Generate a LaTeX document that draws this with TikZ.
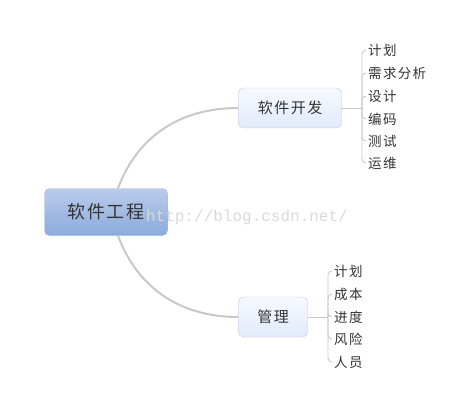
\documentclass[tikz,border=0pt]{standalone}
\usepackage{fontspec}
\setmainfont{Noto Sans CJK SC}[LetterSpace=10]
\newfontfamily\wmfont{Liberation Mono}
\definecolor{linegray}{HTML}{C8C8C8}
\definecolor{txtgray}{HTML}{333333}
\definecolor{rootborder}{HTML}{A4B8DC}
\definecolor{subborder}{HTML}{BAC6DC}
\tikzset{
	rootnode/.style={draw=rootborder, rounded corners=5pt, top color={rgb,255:red,186;green,204;blue,234}, bottom color={rgb,255:red,140;green,170;blue,220}, minimum width=123pt, minimum height=47pt, font=\fontsize{18}{18}\selectfont, text=txtgray},
	subnode/.style={draw=subborder, rounded corners=5pt, top color={rgb,255:red,246;green,249;blue,255}, bottom color={rgb,255:red,226;green,234;blue,250}, minimum height=40pt, inner xsep=12pt, font=\fontsize{15}{15}\selectfont, text=txtgray},
	leaf/.style={anchor=west, inner xsep=2pt, inner ysep=1pt, font=\fontsize{13.5}{13.5}\selectfont, text=txtgray},
	mainlink/.style={linegray, line width=2pt},
	leaflink/.style={linegray, line width=0.9pt, rounded corners=4pt}
}
\begin{document}
\begin{tikzpicture}[x=1pt, y=-1pt]
	\useasboundingbox (0,0) rectangle (476,414);
	% root and branches
	\node[rootnode] (root) at (106,212) {软件工程};
	\node[subnode, minimum width=103pt] (dev) at (290,108) {软件开发};
	\node[subnode, minimum width=69pt] (mgmt) at (273,317) {管理};
	\draw[mainlink] ([xshift=12pt]root.north) .. controls (136,140) and (176,108) .. (dev.west);
	\draw[mainlink] ([xshift=12pt]root.south) .. controls (136,284) and (176,317) .. (mgmt.west);
	% leaves of dev
	\coordinate (devj) at (362,108);
	\node[leaf] (d1) at (366,50) {计划};
	\node[leaf] (d2) at (366,73) {需求分析};
	\node[leaf] (d3) at (366,96) {设计};
	\node[leaf] (d4) at (366,119) {编码};
	\node[leaf] (d5) at (366,141) {测试};
	\node[leaf] (d6) at (366,163) {运维};
	\draw[leaflink] (dev.east) -- (devj);
	\draw[leaflink] (devj) |- (d1.west);
	\draw[leaflink] (devj) |- (d2.west);
	\draw[leaflink] (devj) |- (d3.west);
	\draw[leaflink] (devj) |- (d4.west);
	\draw[leaflink] (devj) |- (d5.west);
	\draw[leaflink] (devj) |- (d6.west);
	% leaves of mgmt
	\coordinate (mgmtj) at (328,317);
	\node[leaf] (m1) at (332,271) {计划};
	\node[leaf] (m2) at (332,294) {成本};
	\node[leaf] (m3) at (332,317) {进度};
	\node[leaf] (m4) at (332,339) {风险};
	\node[leaf] (m5) at (332,362) {人员};
	\draw[leaflink] (mgmt.east) -- (mgmtj);
	\draw[leaflink] (mgmtj) |- (m1.west);
	\draw[leaflink] (mgmtj) |- (m2.west);
	\draw[leaflink] (mgmtj) |- (m3.west);
	\draw[leaflink] (mgmtj) |- (m4.west);
	\draw[leaflink] (mgmtj) |- (m5.west);
	% watermark
	\node[text=black!15, font=\wmfont\fontsize{16}{16}\selectfont, inner sep=0pt] (mark) at (247,217) {http://blog.csdn.net/};
\end{tikzpicture}
\end{document}
